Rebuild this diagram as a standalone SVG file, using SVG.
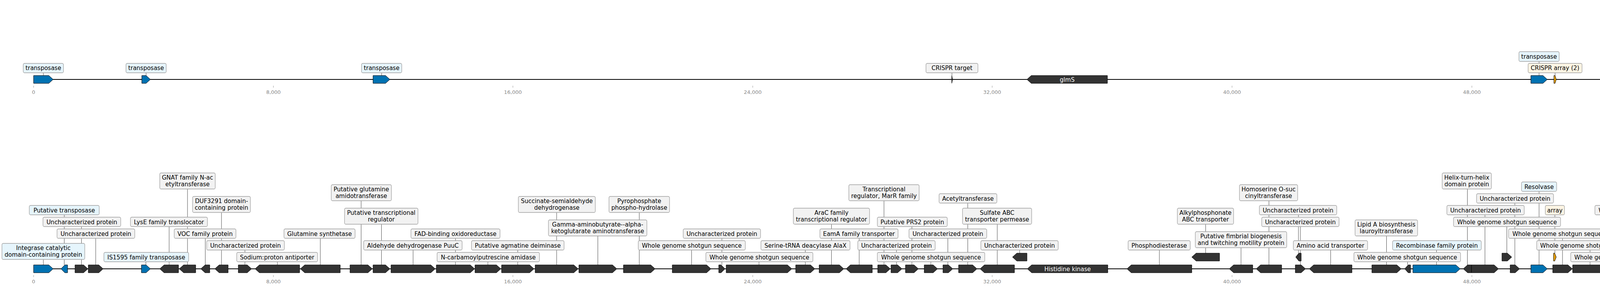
<svg xmlns="http://www.w3.org/2000/svg" width="5851" height="736" viewBox="0 0 5851 736">
<style>
.trk{stroke:#000;stroke-width:1.8;fill:none}
.g{fill:#333333;stroke:#000;stroke-width:1}
.gb{fill:#0072b2;stroke:#000;stroke-width:1}
.go{fill:#d55e00;stroke:#000;stroke-width:1}
.ga{fill:#e69f00;stroke:#000;stroke-width:1}
.lb{fill:#f2f2f2;stroke:#a0a0a0;stroke-width:1.3}
.lbb{fill:#e6f5fc;stroke:#a0a0a0;stroke-width:1.3}
.lbc{fill:#fdf5e4;stroke:#a0a0a0;stroke-width:1.3}
.t{font-family:"DejaVu Sans","Liberation Sans",sans-serif;font-size:15px;fill:#000;text-anchor:middle}
.tw{font-family:"DejaVu Sans","Liberation Sans",sans-serif;font-size:15px;fill:#fff;text-anchor:middle}
.tk{stroke:#999;stroke-width:1}
.tl{font-family:"DejaVu Sans","Liberation Sans",sans-serif;font-size:13px;fill:#888;text-anchor:middle}
.c{stroke:#333;stroke-width:0.9}
</style>
<rect width="5851" height="736" fill="#fff"/>
<g id="axes">
<line class="trk" x1="86" y1="203" x2="5743" y2="203"/>
<line class="trk" x1="86" y1="687" x2="5743" y2="687"/>
<g id="ticks-top">
<line class="tk" x1="86" y1="219" x2="86" y2="224"/><line class="tk" x1="700" y1="219" x2="700" y2="224"/><line class="tk" x1="1313" y1="219" x2="1313" y2="224"/><line class="tk" x1="1927" y1="219" x2="1927" y2="224"/><line class="tk" x1="2540" y1="219" x2="2540" y2="224"/><line class="tk" x1="3154" y1="219" x2="3154" y2="224"/><line class="tk" x1="3768" y1="219" x2="3768" y2="224"/><line class="tk" x1="4381" y1="219" x2="4381" y2="224"/><line class="tk" x1="4995" y1="219" x2="4995" y2="224"/><line class="tk" x1="5608" y1="219" x2="5608" y2="224"/>
<text class="tl" x="86" y="240">0</text><text class="tl" x="700" y="240">8,000</text><text class="tl" x="1313" y="240">16,000</text><text class="tl" x="1927" y="240">24,000</text><text class="tl" x="2540" y="240">32,000</text><text class="tl" x="3154" y="240">40,000</text><text class="tl" x="3768" y="240">48,000</text><text class="tl" x="4381" y="240">56,000</text><text class="tl" x="4995" y="240">64,000</text><text class="tl" x="5608" y="240">72,000</text>
</g>
<g id="ticks-bottom">
<line class="tk" x1="86" y1="703" x2="86" y2="708"/><line class="tk" x1="700" y1="703" x2="700" y2="708"/><line class="tk" x1="1313" y1="703" x2="1313" y2="708"/><line class="tk" x1="1927" y1="703" x2="1927" y2="708"/><line class="tk" x1="2540" y1="703" x2="2540" y2="708"/><line class="tk" x1="3154" y1="703" x2="3154" y2="708"/><line class="tk" x1="3768" y1="703" x2="3768" y2="708"/><line class="tk" x1="4381" y1="703" x2="4381" y2="708"/><line class="tk" x1="4995" y1="703" x2="4995" y2="708"/><line class="tk" x1="5608" y1="703" x2="5608" y2="708"/>
<text class="tl" x="86" y="724">0</text><text class="tl" x="700" y="724">8,000</text><text class="tl" x="1313" y="724">16,000</text><text class="tl" x="1927" y="724">24,000</text><text class="tl" x="2540" y="724">32,000</text><text class="tl" x="3154" y="724">40,000</text><text class="tl" x="3768" y="724">48,000</text><text class="tl" x="4381" y="724">56,000</text><text class="tl" x="4995" y="724">64,000</text><text class="tl" x="5608" y="724">72,000</text>
</g>
</g>
<g id="connectors">
<line class="c" x1="111" y1="193" x2="111" y2="186"/>
<line class="c" x1="374" y1="193" x2="374" y2="186"/>
<line class="c" x1="977" y1="193" x2="977" y2="186"/>
<line class="c" x1="2437" y1="193" x2="2437" y2="186"/>
<line class="c" x1="3940" y1="193" x2="3940" y2="157"/>
<line class="c" x1="3981" y1="193" x2="3981" y2="186"/>
<line class="c" x1="5719" y1="193" x2="5719" y2="186"/>
<line class="c" x1="111" y1="677" x2="111" y2="663"/>
<line class="c" x1="164.5" y1="677" x2="164.5" y2="549"/>
<line class="c" x1="208.5" y1="677" x2="208.5" y2="579"/>
<line class="c" x1="245" y1="677" x2="245" y2="609"/>
<line class="c" x1="373.5" y1="677" x2="373.5" y2="669"/>
<line class="c" x1="433" y1="677" x2="433" y2="579"/>
<line class="c" x1="480" y1="677" x2="480" y2="483"/>
<line class="c" x1="525.5" y1="677" x2="525.5" y2="609"/>
<line class="c" x1="567" y1="677" x2="567" y2="543"/>
<line class="c" x1="627" y1="677" x2="627" y2="639"/>
<line class="c" x1="710" y1="677" x2="710" y2="669"/>
<line class="c" x1="820" y1="677" x2="820" y2="609"/>
<line class="c" x1="924.5" y1="677" x2="924.5" y2="513"/>
<line class="c" x1="976.5" y1="677" x2="976.5" y2="573"/>
<line class="c" x1="1057.5" y1="677" x2="1057.5" y2="639"/>
<line class="c" x1="1166" y1="677" x2="1166" y2="609"/>
<line class="c" x1="1249" y1="677" x2="1249" y2="669"/>
<line class="c" x1="1325.5" y1="677" x2="1325.5" y2="639"/>
<line class="c" x1="1425" y1="677" x2="1425" y2="543"/>
<line class="c" x1="1530.5" y1="677" x2="1530.5" y2="603"/>
<line class="c" x1="1636.5" y1="677" x2="1636.5" y2="543"/>
<line class="c" x1="1770.5" y1="677" x2="1770.5" y2="639"/>
<line class="c" x1="1848" y1="677" x2="1848" y2="609"/>
<line class="c" x1="1943" y1="677" x2="1943" y2="669"/>
<line class="c" x1="2061.5" y1="677" x2="2061.5" y2="639"/>
<line class="c" x1="2128.5" y1="677" x2="2128.5" y2="573"/>
<line class="c" x1="2199.5" y1="677" x2="2199.5" y2="609"/>
<line class="c" x1="2263" y1="677" x2="2263" y2="513"/>
<line class="c" x1="2295" y1="677" x2="2295" y2="639"/>
<line class="c" x1="2334.5" y1="677" x2="2334.5" y2="579"/>
<line class="c" x1="2383" y1="677" x2="2383" y2="669"/>
<line class="c" x1="2426.5" y1="677" x2="2426.5" y2="609"/>
<line class="c" x1="2477.5" y1="677" x2="2477.5" y2="519"/>
<line class="c" x1="2553" y1="677" x2="2553" y2="573"/>
<line class="c" x1="2610.5" y1="647" x2="2610.5" y2="639"/>
<line class="c" x1="2968" y1="677" x2="2968" y2="639"/>
<line class="c" x1="3086.5" y1="647" x2="3086.5" y2="573"/>
<line class="c" x1="3177" y1="677" x2="3177" y2="633"/>
<line class="c" x1="3248.5" y1="677" x2="3248.5" y2="513"/>
<line class="c" x1="3324" y1="647" x2="3324" y2="549"/>
<line class="c" x1="3329" y1="677" x2="3329" y2="579"/>
<line class="c" x1="3406.5" y1="677" x2="3406.5" y2="639"/>
<line class="c" x1="3549.5" y1="677" x2="3549.5" y2="603"/>
<line class="c" x1="3603.5" y1="677" x2="3603.5" y2="669"/>
<line class="c" x1="3677.5" y1="677" x2="3677.5" y2="639"/>
<line class="c" x1="3756.5" y1="677" x2="3756.5" y2="483"/>
<line class="c" x1="3801.5" y1="677" x2="3801.5" y2="549"/>
<line class="c" x1="3857.5" y1="647" x2="3857.5" y2="579"/>
<line class="c" x1="3878" y1="677" x2="3878" y2="519"/>
<line class="c" x1="3940" y1="677" x2="3940" y2="489"/>
<line class="c" x1="3980.5" y1="647" x2="3980.5" y2="549"/>
<line class="c" x1="4000" y1="677" x2="4000" y2="609"/>
<line class="c" x1="4070.5" y1="677" x2="4070.5" y2="639"/>
<line class="c" x1="4159" y1="677" x2="4159" y2="669"/>
<line class="c" x1="4220" y1="677" x2="4220" y2="549"/>
<line class="c" x1="4257" y1="677" x2="4257" y2="579"/>
<line class="c" x1="4276.5" y1="677" x2="4276.5" y2="519"/>
<line class="c" x1="4396.5" y1="677" x2="4396.5" y2="639"/>
<line class="c" x1="4434.5" y1="677" x2="4434.5" y2="609"/>
<line class="c" x1="4466.5" y1="677" x2="4466.5" y2="669"/>
<line class="c" x1="4534" y1="677" x2="4534" y2="579"/>
<line class="c" x1="4655" y1="677" x2="4655" y2="609"/>
<line class="c" x1="4782.5" y1="677" x2="4782.5" y2="663"/>
<line class="c" x1="4927" y1="677" x2="4927" y2="603"/>
<line class="c" x1="5026" y1="677" x2="5026" y2="639"/>
<line class="c" x1="5072" y1="677" x2="5072" y2="669"/>
<line class="c" x1="5156.5" y1="677" x2="5156.5" y2="609"/>
<line class="c" x1="5325" y1="677" x2="5325" y2="609"/>
<line class="c" x1="5358.5" y1="677" x2="5358.5" y2="639"/>
<line class="c" x1="5394.5" y1="677" x2="5394.5" y2="579"/>
<line class="c" x1="5494.5" y1="677" x2="5494.5" y2="669"/>
<line class="c" x1="5633.5" y1="677" x2="5633.5" y2="609"/>
<line class="c" x1="5718.5" y1="677" x2="5718.5" y2="639"/>
</g>
<!-- top track -->
<g id="top-transposase-1"><polygon class="gb" points="86,193 125,193 136,203 125,213 86,213"/><rect class="lbb" x="59.5" y="162" width="103" height="24" rx="3.5"/><text class="t" x="111" y="179">transposase</text></g>
<g id="top-transposase-2"><polygon class="gb" points="363,193 374,193 385,203 374,213 363,213"/><rect class="lbb" x="322.5" y="162" width="103" height="24" rx="3.5"/><text class="t" x="374" y="179">transposase</text></g>
<g id="top-transposase-3"><polygon class="gb" points="955,193 987,193 998,203 987,213 955,213"/><rect class="lbb" x="925.5" y="162" width="103" height="24" rx="3.5"/><text class="t" x="977" y="179">transposase</text></g>
<g id="top-crispr-target"><polygon class="g" points="2436.5,193 2438.5,203 2436.5,213"/><rect class="lb" x="2370.5" y="162" width="133" height="24" rx="3.5"/><text class="t" x="2437" y="179">CRISPR target</text></g>
<g id="top-glmS-1"><polygon class="g" points="2835,193 2640,193 2629,203 2640,213 2835,213"/><text class="tw" x="2732" y="208.5">glmS</text></g>
<g id="top-transposase-4"><polygon class="gb" points="3919,193 3950,193 3961,203 3950,213 3919,213"/><rect class="lbb" x="3888.5" y="132" width="103" height="25" rx="3.5"/><text class="t" x="3940" y="149.5">transposase</text></g>
<g id="top-crispr-array"><polygon class="ga" points="3978,193 3981,193 3984,203 3981,213 3978,213"/><rect class="lbc" x="3912" y="162" width="138" height="24" rx="3.5"/><text class="t" x="3981" y="179">CRISPR array (2)</text></g>
<g id="top-cas9"><polygon class="go" points="4744,193 4579,193 4568,203 4579,213 4744,213"/><text class="tw" x="4656" y="208.5">cas9</text></g>
<g id="top-glmS-2"><polygon class="g" points="5743,193 5706,193 5695,203 5706,213 5743,213"/><rect class="lb" x="5693.5" y="162" width="51" height="24" rx="3.5"/><text class="t" x="5719" y="179">glmS</text></g>
<!-- bottom track -->
<g id="b1"><polygon class="gb" points="86,677 125,677 136,687 125,697 86,697"/><rect class="lbb" x="5" y="622" width="212" height="41" rx="3.5"/><text class="t" x="111" y="638.5">Integrase catalytic<tspan x="111" dy="17.5">domain-containing protein</tspan></text></g>
<g id="b2"><polygon class="gb" points="173,677 166,677 156,687 166,697 173,697"/><rect class="lbb" x="75" y="525" width="179" height="24" rx="3.5"/><text class="t" x="164.5" y="542.5">Putative transposase</text></g>
<g id="b3"><polygon class="g" points="192,677 214,677 225,687 214,697 192,697"/><rect class="lb" x="110" y="555" width="199" height="24" rx="3.5"/><text class="t" x="209.5" y="572.5">Uncharacterized protein</text></g>
<g id="b4"><polygon class="g" points="226,677 253,677 264,687 253,697 226,697"/><rect class="lb" x="146" y="585" width="199" height="24" rx="3.5"/><text class="t" x="245.5" y="602.5">Uncharacterized protein</text></g>
<g id="b5"><polygon class="gb" points="362,677 374,677 385,687 374,697 362,697"/><rect class="lbb" x="266" y="645" width="217" height="24" rx="3.5"/><text class="t" x="374.5" y="662.5">IS1595 family transposase</text></g>
<g id="b6"><polygon class="g" points="457,677 420,677 409,687 420,697 457,697"/><rect class="lb" x="334" y="555" width="197" height="24" rx="3.5"/><text class="t" x="432.5" y="572.5">LysE family translocator</text></g>
<g id="b7"><polygon class="g" points="501,677 470,677 459,687 470,697 501,697"/><rect class="lb" x="409" y="442" width="142" height="41" rx="3.5"/><text class="t" x="480" y="458.5">GNAT family N-ac<tspan x="480" dy="17.5">etyltransferase</tspan></text></g>
<g id="b8"><polygon class="g" points="537,677 525,677 514,687 525,697 537,697"/><rect class="lb" x="446" y="585" width="158" height="24" rx="3.5"/><text class="t" x="525" y="602.5">VOC family protein</text></g>
<g id="b9"><polygon class="g" points="584,677 561,677 550,687 561,697 584,697"/><rect class="lb" x="493" y="502" width="148" height="41" rx="3.5"/><text class="t" x="567" y="518.5">DUF3291 domain-<tspan x="567" dy="17.5">containing protein</tspan></text></g>
<g id="b10"><polygon class="g" points="610,677 633,677 644,687 633,697 610,697"/><rect class="lb" x="529" y="615" width="199" height="24" rx="3.5"/><text class="t" x="628.5" y="632.5">Uncharacterized protein</text></g>
<g id="b11"><polygon class="g" points="767,677 664,677 653,687 664,697 767,697"/><rect class="lb" x="606" y="645" width="207" height="24" rx="3.5"/><text class="t" x="709.5" y="662.5">Sodium:proton antiporter</text></g>
<g id="b12"><polygon class="g" points="871,677 780,677 769,687 780,697 871,697"/><rect class="lb" x="727" y="585" width="182" height="24" rx="3.5"/><text class="t" x="818" y="602.5">Glutamine synthetase</text></g>
<g id="b13"><polygon class="g" points="896,677 942,677 953,687 942,697 896,697"/><rect class="lb" x="848" y="472" width="154" height="41" rx="3.5"/><text class="t" x="925" y="488.5">Putative glutamine<tspan x="925" dy="17.5">amidotransferase</tspan></text></g>
<g id="b14"><polygon class="g" points="955,677 987,677 998,687 987,697 955,697"/><rect class="lb" x="882" y="532" width="188" height="41" rx="3.5"/><text class="t" x="976" y="548.5">Putative transcriptional<tspan x="976" dy="17.5">regulator</tspan></text></g>
<g id="b15"><polygon class="g" points="1001,677 1103,677 1114,687 1103,697 1001,697"/><rect class="lb" x="931" y="615" width="252" height="24" rx="3.5"/><text class="t" x="1057" y="632.5">Aldehyde dehydrogenase PuuC</text></g>
<g id="b16"><polygon class="g" points="1117,677 1204,677 1215,687 1204,697 1117,697"/><rect class="lb" x="1052" y="585" width="228" height="24" rx="3.5"/><text class="t" x="1166" y="602.5">FAD-binding oxidoreductase</text></g>
<g id="b17"><polygon class="g" points="1216,677 1271,677 1282,687 1271,697 1216,697"/><rect class="lb" x="1119" y="645" width="262" height="24" rx="3.5"/><text class="t" x="1250" y="662.5">N-carbamoylputrescine amidase</text></g>
<g id="b18"><polygon class="g" points="1284,677 1356,677 1367,687 1356,697 1284,697"/><rect class="lb" x="1207" y="615" width="237" height="24" rx="3.5"/><text class="t" x="1325.5" y="632.5">Putative agmatine deiminase</text></g>
<g id="b19"><polygon class="g" points="1370,677 1469,677 1480,687 1469,697 1370,697"/><rect class="lb" x="1327" y="502" width="197" height="41" rx="3.5"/><text class="t" x="1425.5" y="518.5">Succinate-semialdehyde<tspan x="1425.5" dy="17.5">dehydrogenase</tspan></text></g>
<g id="b20"><polygon class="g" points="1482,677 1568,677 1579,687 1568,697 1482,697"/><rect class="lb" x="1404" y="562" width="252" height="41" rx="3.5"/><text class="t" x="1530" y="578.5">Gamma-aminobutyrate--alpha-<tspan x="1530" dy="17.5">ketoglutarate aminotransferase</tspan></text></g>
<g id="b21"><polygon class="g" points="1596,677 1666,677 1677,687 1666,697 1596,697"/><rect class="lb" x="1559" y="502" width="155" height="41" rx="3.5"/><text class="t" x="1636.5" y="518.5">Pyrophosphate<tspan x="1636.5" dy="17.5">phospho-hydrolase</tspan></text></g>
<g id="b22"><polygon class="g" points="1721,677 1809,677 1820,687 1809,697 1721,697"/><rect class="lb" x="1634" y="615" width="274" height="24" rx="3.5"/><text class="t" x="1771" y="632.5">Whole genome shotgun sequence</text></g>
<g id="b23"><polygon class="g" points="1840,677 1846,677 1856,687 1846,697 1840,697"/><rect class="lb" x="1749" y="585" width="198" height="24" rx="3.5"/><text class="t" x="1848" y="602.5">Uncharacterized protein</text></g>
<g id="b24"><polygon class="g" points="1859,677 2016,677 2027,687 2016,697 1859,697"/><rect class="lb" x="1807" y="645" width="274" height="24" rx="3.5"/><text class="t" x="1944" y="662.5">Whole genome shotgun sequence</text></g>
<g id="b25"><polygon class="g" points="2037,677 2075,677 2086,687 2075,697 2037,697"/><rect class="lb" x="1948" y="615" width="228" height="24" rx="3.5"/><text class="t" x="2062" y="632.5">Serine-tRNA deacylase AlaX</text></g>
<g id="b26"><polygon class="g" points="2097,677 2149,677 2160,687 2149,697 2097,697"/><rect class="lb" x="2031" y="532" width="195" height="41" rx="3.5"/><text class="t" x="2128.5" y="548.5">AraC family<tspan x="2128.5" dy="17.5">transcriptional regulator</tspan></text></g>
<g id="b27"><polygon class="g" points="2233,677 2177,677 2166,687 2177,697 2233,697"/><rect class="lb" x="2099" y="585" width="200" height="24" rx="3.5"/><text class="t" x="2199" y="602.5">EamA family transporter</text></g>
<g id="b28"><polygon class="g" points="2247,677 2268,677 2279,687 2268,697 2247,697"/><rect class="lb" x="2173" y="472" width="180" height="41" rx="3.5"/><text class="t" x="2263" y="488.5">Transcriptional<tspan x="2263" dy="17.5">regulator, MarR family</tspan></text></g>
<g id="b29"><polygon class="g" points="2281,677 2298,677 2309,687 2298,697 2281,697"/><rect class="lb" x="2196" y="615" width="198" height="24" rx="3.5"/><text class="t" x="2295" y="632.5">Uncharacterized protein</text></g>
<g id="b30"><polygon class="g" points="2318,677 2340,677 2351,687 2340,697 2318,697"/><rect class="lb" x="2246" y="555" width="179" height="24" rx="3.5"/><text class="t" x="2335.5" y="572.5">Putative PRS2 protein</text></g>
<g id="b31"><polygon class="g" points="2366,677 2389,677 2400,687 2389,697 2366,697"/><rect class="lb" x="2246" y="645" width="275" height="24" rx="3.5"/><text class="t" x="2383.5" y="662.5">Whole genome shotgun sequence</text></g>
<g id="b32"><polygon class="g" points="2414,677 2428,677 2439,687 2428,697 2414,697"/><rect class="lb" x="2327" y="585" width="199" height="24" rx="3.5"/><text class="t" x="2426.5" y="602.5">Uncharacterized protein</text></g>
<g id="b33"><polygon class="g" points="2454,677 2490,677 2501,687 2490,697 2454,697"/><rect class="lb" x="2404" y="495" width="148" height="24" rx="3.5"/><text class="t" x="2478" y="512.5">Acetyltransferase</text></g>
<g id="b34"><polygon class="g" points="2597,677 2520,677 2509,687 2520,697 2597,697"/><rect class="lb" x="2464" y="532" width="177" height="41" rx="3.5"/><text class="t" x="2552.5" y="548.5">Sulfate ABC<tspan x="2552.5" dy="17.5">transporter permease</tspan></text></g>
<g id="b35"><polygon class="g" points="2629,647 2603,647 2592,657 2603,667 2629,667"/><rect class="lb" x="2511" y="615" width="198" height="24" rx="3.5"/><text class="t" x="2610" y="632.5">Uncharacterized protein</text></g>
<g id="b36"><polygon class="g" points="2836,677 2641,677 2630,687 2641,697 2836,697"/><text class="tw" x="2733" y="692.5">Histidine kinase</text></g>
<g id="b37"><polygon class="g" points="3051,677 2896,677 2885,687 2896,697 3051,697"/><rect class="lb" x="2888" y="615" width="159" height="24" rx="3.5"/><text class="t" x="2967.5" y="632.5">Phosphodiesterase</text></g>
<g id="b38"><polygon class="g" points="3122,647 3062,647 3051,657 3062,667 3122,667"/><rect class="lb" x="3014" y="532" width="144" height="41" rx="3.5"/><text class="t" x="3086" y="548.5">Alkylphosphonate<tspan x="3086" dy="17.5">ABC transporter</tspan></text></g>
<g id="b39"><polygon class="g" points="3207,677 3158,677 3147,687 3158,697 3207,697"/><rect class="lb" x="3060" y="592" width="234" height="41" rx="3.5"/><text class="t" x="3177" y="608.5">Putative fimbrial biogenesis<tspan x="3177" dy="17.5">and twitching motility protein</tspan></text></g>
<g id="b40"><polygon class="g" points="3281,677 3227,677 3216,687 3227,697 3281,697"/><rect class="lb" x="3173" y="472" width="149" height="41" rx="3.5"/><text class="t" x="3247.5" y="488.5">Homoserine O-suc<tspan x="3247.5" dy="17.5">cinyltransferase</tspan></text></g>
<g id="b41"><polygon class="g" points="3316,677 3331,677 3342,687 3331,697 3316,697"/><rect class="lb" x="3230" y="555" width="198" height="24" rx="3.5"/><text class="t" x="3329" y="572.5">Uncharacterized protein</text></g>
<g id="b42"><polygon class="g" points="3331,647 3325,647 3317,657 3325,667 3331,667"/><rect class="lb" x="3224" y="525" width="198" height="24" rx="3.5"/><text class="t" x="3323" y="542.5">Uncharacterized protein</text></g>
<g id="b43"><polygon class="g" points="3461,677 3363,677 3352,687 3363,697 3461,697"/><rect class="lb" x="3311" y="615" width="190" height="24" rx="3.5"/><text class="t" x="3406" y="632.5">Amino acid transporter</text></g>
<g id="b44"><polygon class="g" points="3512,677 3576,677 3587,687 3576,697 3512,697"/><rect class="lb" x="3469" y="562" width="160" height="41" rx="3.5"/><text class="t" x="3549" y="578.5">Lipid A biosynthesis<tspan x="3549" dy="17.5">lauroyltransferase</tspan></text></g>
<g id="b45"><polygon class="g" points="3611,677 3605,677 3596,687 3605,697 3611,697"/><rect class="lb" x="3466" y="645" width="273" height="24" rx="3.5"/><text class="t" x="3602.5" y="662.5">Whole genome shotgun sequence</text></g>
<g id="b46"><polygon class="gb" points="3617,677 3727,677 3738,687 3727,697 3617,697"/><rect class="lbb" x="3565" y="615" width="227" height="24" rx="3.5"/><text class="t" x="3678.5" y="632.5">Recombinase family protein</text></g>
<g id="b47"><polygon class="g" points="3767,677 3757,677 3746,687 3757,697 3767,697"/><rect class="lb" x="3692" y="442" width="126" height="41" rx="3.5"/><text class="t" x="3755" y="458.5">Helix-turn-helix<tspan x="3755" dy="17.5">domain protein</tspan></text></g>
<g id="b48"><polygon class="g" points="3767,677 3825,677 3836,687 3825,697 3767,697"/><rect class="lb" x="3704" y="525" width="198" height="24" rx="3.5"/><text class="t" x="3803" y="542.5">Uncharacterized protein</text></g>
<g id="b49"><polygon class="g" points="3845,647 3859,647 3870,657 3859,667 3845,667"/><rect class="lb" x="3721" y="555" width="274" height="24" rx="3.5"/><text class="t" x="3858" y="572.5">Whole genome shotgun sequence</text></g>
<g id="b50"><polygon class="g" points="3866,677 3879,677 3890,687 3879,697 3866,697"/><rect class="lb" x="3780" y="495" width="197" height="24" rx="3.5"/><text class="t" x="3878.5" y="512.5">Uncharacterized protein</text></g>
<g id="b51"><polygon class="gb" points="3919,677 3950,677 3961,687 3950,697 3919,697"/><rect class="lbb" x="3895" y="465" width="90" height="24" rx="3.5"/><text class="t" x="3940" y="482.5">Resolvase</text></g>
<g id="b52"><polygon class="ga" points="3977,647 3980,647 3984,657 3980,667 3977,667"/><rect class="lbc" x="3956" y="525" width="49" height="24" rx="3.5"/><text class="t" x="3980.5" y="542.5">array</text></g>
<g id="b53"><polygon class="g" points="3975,677 4014,677 4025,687 4014,697 3975,697"/><rect class="lb" x="3862" y="585" width="275" height="24" rx="3.5"/><text class="t" x="3999.5" y="602.5">Whole genome shotgun sequence</text></g>
<g id="b54"><polygon class="g" points="4026,677 4104,677 4115,687 4104,697 4026,697"/><rect class="lb" x="3934" y="615" width="273" height="24" rx="3.5"/><text class="t" x="4070.5" y="632.5">Whole genome shotgun sequence</text></g>
<g id="b55"><polygon class="g" points="4196,677 4133,677 4122,687 4133,697 4196,697"/><rect class="lb" x="4021" y="645" width="274" height="24" rx="3.5"/><text class="t" x="4158" y="662.5">Whole genome shotgun sequence</text></g>
<g id="b56"><polygon class="g" points="4213,677 4219,677 4227,687 4219,697 4213,697"/><rect class="lb" x="4083" y="525" width="274" height="24" rx="3.5"/><text class="t" x="4220" y="542.5">Whole genome shotgun sequence</text></g>
<g id="b57"><polygon class="g" points="4247,677 4256,677 4267,687 4256,697 4247,697"/><rect class="lb" x="4119" y="555" width="275" height="24" rx="3.5"/><text class="t" x="4256.5" y="572.5">Whole genome shotgun sequence</text></g>
<g id="b58"><polygon class="g" points="4267,677 4275,677 4286,687 4275,697 4267,697"/><rect class="lb" x="4177" y="495" width="199" height="24" rx="3.5"/><text class="t" x="4276.5" y="512.5">Uncharacterized protein</text></g>
<g id="b59"><polygon class="g" points="4420,677 4384,677 4373,687 4384,697 4420,697"/><rect class="lb" x="4297" y="615" width="199" height="24" rx="3.5"/><text class="t" x="4396.5" y="632.5">Uncharacterized protein</text></g>
<g id="b60"><polygon class="g" points="4448,677 4432,677 4421,687 4432,697 4448,697"/><rect class="lb" x="4335" y="585" width="199" height="24" rx="3.5"/><text class="t" x="4434.5" y="602.5">Uncharacterized protein</text></g>
<g id="b61"><polygon class="g" points="4484,677 4460,677 4449,687 4460,697 4484,697"/><rect class="lb" x="4329" y="645" width="274" height="24" rx="3.5"/><text class="t" x="4466" y="662.5">Whole genome shotgun sequence</text></g>
<g id="b62"><polygon class="g" points="4555,677 4524,677 4513,687 4524,697 4555,697"/><rect class="lb" x="4434" y="555" width="199" height="24" rx="3.5"/><text class="t" x="4533.5" y="572.5">Uncharacterized protein</text></g>
<g id="b63"><polygon class="g" points="4744,677 4577,677 4566,687 4577,697 4744,697"/><rect class="lb" x="4556" y="585" width="198" height="24" rx="3.5"/><text class="t" x="4655" y="602.5">Uncharacterized protein</text></g>
<g id="b64"><polygon class="g" points="4819,677 4757,677 4746,687 4757,697 4819,697"/><rect class="lb" x="4678" y="622" width="208" height="41" rx="3.5"/><text class="t" x="4782" y="638.5">Contig_34, whole genome<tspan x="4782" dy="17.5">shotgun sequence</tspan></text></g>
<g id="b65"><polygon class="g" points="4986,677 4879,677 4868,687 4879,697 4986,697"/><rect class="lb" x="4854" y="562" width="145" height="41" rx="3.5"/><text class="t" x="4926.5" y="578.5">Metal-dependent<tspan x="4926.5" dy="17.5">carboxypeptidase</tspan></text></g>
<g id="b66"><polygon class="g" points="5002,677 5039,677 5050,687 5039,697 5002,697"/><rect class="lb" x="4929" y="615" width="196" height="24" rx="3.5"/><text class="t" x="5027" y="632.5">LysE family translocator</text></g>
<g id="b67"><polygon class="g" points="5051,677 5082,677 5093,687 5082,697 5051,697"/><rect class="lb" x="4974" y="645" width="198" height="24" rx="3.5"/><text class="t" x="5073" y="662.5">Uncharacterized protein</text></g>
<g id="b68"><polygon class="g" points="5209,677 5115,677 5104,687 5115,697 5209,697"/><rect class="lb" x="5106" y="585" width="100" height="24" rx="3.5"/><text class="t" x="5156" y="602.5">Transporter</text></g>
<g id="b69"><polygon class="g" points="5314,677 5325,677 5336,687 5325,697 5314,697"/><rect class="lb" x="5226" y="585" width="199" height="24" rx="3.5"/><text class="t" x="5325.5" y="602.5">Uncharacterized protein</text></g>
<g id="b70"><polygon class="g" points="5373,677 5355,677 5344,687 5355,697 5373,697"/><rect class="lb" x="5258" y="615" width="199" height="24" rx="3.5"/><text class="t" x="5357.5" y="632.5">Uncharacterized protein</text></g>
<g id="b71"><polygon class="g" points="5409,677 5391,677 5380,687 5391,697 5409,697"/><rect class="lb" x="5346" y="555" width="96" height="24" rx="3.5"/><text class="t" x="5394" y="572.5">Glyoxalase</text></g>
<g id="b72"><polygon class="g" points="5569,677 5431,677 5420,687 5431,697 5569,697"/><rect class="lb" x="5358" y="645" width="274" height="24" rx="3.5"/><text class="t" x="5495" y="662.5">Whole genome shotgun sequence</text></g>
<g id="b73"><polygon class="g" points="5681,677 5597,677 5586,687 5597,697 5681,697"/><rect class="lb" x="5548" y="585" width="170" height="24" rx="3.5"/><text class="t" x="5633" y="602.5">Sensor protein QseC</text></g>
<g id="b74"><polygon class="g" points="5743,677 5705,677 5694,687 5705,697 5743,697"/><rect class="lb" x="5592" y="615" width="253" height="24" rx="3.5"/><text class="t" x="5718.5" y="632.5">DNA-binding response regulator</text></g>
</svg>
